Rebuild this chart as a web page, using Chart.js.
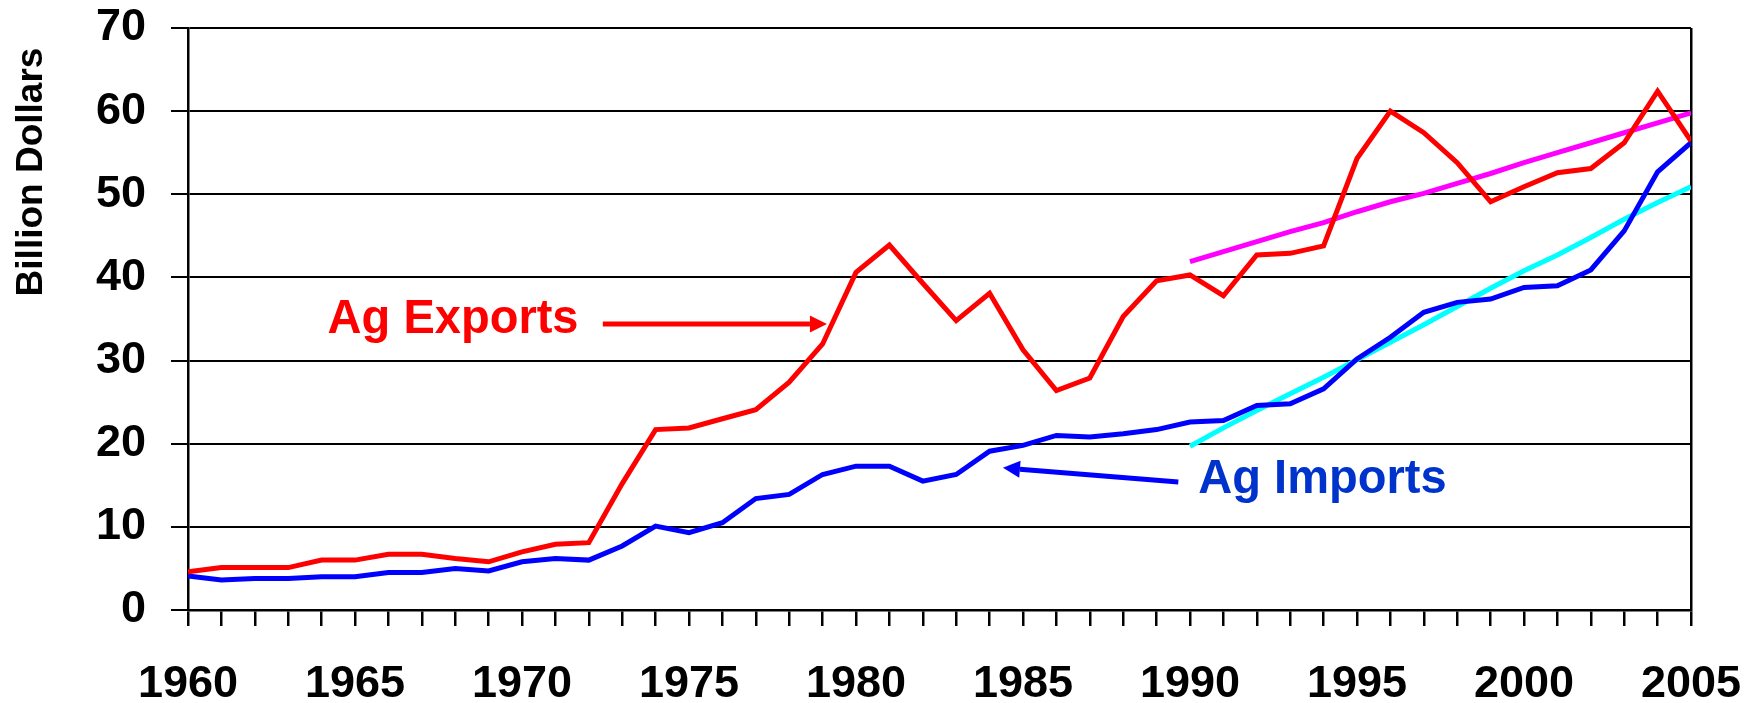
<!DOCTYPE html>
<html>
<head>
<meta charset="utf-8">
<script src="https://cdn.jsdelivr.net/npm/chart.js@4"></script>
<style>
  html, body { margin: 0; padding: 0; background: #ffffff; }
  #wrap { width: 1763px; height: 703px; }
</style>
</head>
<body>
<div id="wrap"><canvas id="chart" width="1763" height="703"></canvas></div>
<script>
// values (billion dollars)
const years = [
  1960, 1961, 1962, 1963, 1964, 1965, 1966, 1967, 1968, 1969,
  1970, 1971, 1972, 1973, 1974, 1975, 1976, 1977, 1978, 1979,
  1980, 1981, 1982, 1983, 1984, 1985, 1986, 1987, 1988, 1989,
  1990, 1991, 1992, 1993, 1994, 1995, 1996, 1997, 1998, 1999,
  2000, 2001, 2002, 2003, 2004, 2005,
];
const agExports = [
  4.6, 5.1, 5.1, 5.1, 6.0, 6.0, 6.7, 6.7, 6.2, 5.8,
  7.0, 7.9, 8.1, 15.2, 21.7, 21.9, 23.0, 24.1, 27.4, 32.0,
  40.6, 43.9, 39.3, 34.8, 38.1, 31.3, 26.4, 27.9, 35.3, 39.6,
  40.3, 37.8, 42.7, 42.9, 43.8, 54.3, 60.0, 57.4, 53.8, 49.1,
  50.9, 52.6, 53.1, 56.2, 62.4, 56.4,
];
const agImports = [
  4.1, 3.6, 3.8, 3.8, 4.0, 4.0, 4.5, 4.5, 5.0, 4.7,
  5.8, 6.2, 6.0, 7.7, 10.1, 9.3, 10.5, 13.4, 13.9, 16.3,
  17.3, 17.3, 15.5, 16.3, 19.1, 19.8, 21.0, 20.8, 21.2, 21.7,
  22.6, 22.8, 24.6, 24.8, 26.6, 30.2, 32.8, 35.8, 37.0, 37.4,
  38.8, 39.0, 40.9, 45.6, 52.7, 56.2,
];
// trend lines drawn over the 1990-2005 stretch
const trendYears = [
  1990, 1991, 1992, 1993, 1994, 1995, 1996, 1997,
  1998, 1999, 2000, 2001, 2002, 2003, 2004, 2005,
];
const exportsTrend = [
  41.9, 43.1, 44.3, 45.5, 46.6, 47.9, 49.1, 50.1,
  51.3, 52.5, 53.8, 55.0, 56.2, 57.4, 58.6, 59.8,
];
const importsTrend = [
  19.7, 21.9, 24.0, 26.0, 28.0, 30.1, 32.2, 34.3,
  36.5, 38.7, 40.8, 42.7, 44.8, 47.0, 49.0, 50.9,
];
const yTicks = [0, 10, 20, 30, 40, 50, 60, 70];

const FONT = '"Liberation Sans", Arial, Helvetica, sans-serif';

const toPoints = (xs, ys) => xs.map((x, i) => ({ x: x, y: ys[i] }));

function drawArrow(ctx, x1, y1, x2, y2, color) {
  const ang = Math.atan2(y2 - y1, x2 - x1);
  const head = 17;
  const half = 8.5;
  const bx = x2 - head * Math.cos(ang);
  const by = y2 - head * Math.sin(ang);
  ctx.strokeStyle = color;
  ctx.fillStyle = color;
  ctx.lineWidth = 5;
  ctx.lineCap = "butt";
  ctx.beginPath();
  ctx.moveTo(x1, y1);
  ctx.lineTo(bx, by);
  ctx.stroke();
  ctx.beginPath();
  ctx.moveTo(x2, y2);
  ctx.lineTo(bx + half * Math.sin(ang), by - half * Math.cos(ang));
  ctx.lineTo(bx - half * Math.sin(ang), by + half * Math.cos(ang));
  ctx.closePath();
  ctx.fill();
}

function drawLabel(ctx, text, x, y, color) {
  ctx.save();
  ctx.translate(x, y);
  ctx.scale(0.96, 1);
  ctx.font = "bold 49px " + FONT;
  ctx.fillStyle = color;
  ctx.textAlign = "left";
  ctx.textBaseline = "alphabetic";
  ctx.fillText(text, 0, 0);
  ctx.restore();
}

// arrows, series labels and the axis title
const notes = {
  id: "notes",
  afterDatasetsDraw(chart) {
    const { ctx, scales } = chart;
    const px = (v) => scales.x.getPixelForValue(v);
    const py = (v) => scales.y.getPixelForValue(v);
    ctx.save();
    drawLabel(ctx, "Ag Exports", px(1964.18), py(33.3), "#ff0000");
    drawArrow(ctx, px(1972.42), py(34.4), px(1979.13), py(34.4), "#ff0000");
    drawLabel(ctx, "Ag Imports", px(1990.25), py(14.1), "#0033cc");
    drawArrow(ctx, px(1989.65), py(15.4), px(1984.4), py(17.1), "#0000ff");

    ctx.translate(41.5, 172);
    ctx.rotate(-Math.PI / 2);
    ctx.font = "bold 37px " + FONT;
    ctx.fillStyle = "#000000";
    ctx.textAlign = "center";
    ctx.textBaseline = "alphabetic";
    ctx.fillText("Billion Dollars", 0, 0);
    ctx.restore();
  },
};

// fixed axis sizes, no extra room for overhanging labels
function pinSize(scale, key, size) {
  scale[key] = size;
  scale.paddingTop = 0;
  scale.paddingBottom = 0;
  scale.paddingLeft = 0;
  scale.paddingRight = 0;
}

new Chart(document.getElementById("chart"), {
  type: "line",
  data: {
    datasets: [
      {
        label: "Ag Exports",
        data: toPoints(years, agExports),
        borderColor: "#ff0000",
        borderWidth: 5,
      },
      {
        label: "Ag Imports",
        data: toPoints(years, agImports),
        borderColor: "#0000ff",
        borderWidth: 5,
      },
      {
        label: "Exports trend",
        data: toPoints(trendYears, exportsTrend),
        borderColor: "#ff00ff",
        borderWidth: 5,
      },
      {
        label: "Imports trend",
        data: toPoints(trendYears, importsTrend),
        borderColor: "#00ffff",
        borderWidth: 5,
      },
    ],
  },
  options: {
    responsive: false,
    animation: false,
    devicePixelRatio: 1,
    elements: {
      point: { radius: 0, hoverRadius: 0 },
      line: { tension: 0, fill: false, borderJoinStyle: "miter" },
    },
    layout: { padding: { left: 0, top: 28, right: 72, bottom: 0 } },
    plugins: {
      legend: { display: false },
      tooltip: { enabled: false },
    },
    scales: {
      x: {
        type: "linear",
        min: years[0],
        max: years[years.length - 1],
        afterFit: (scale) => pinSize(scale, "height", 93),
        afterBuildTicks: (scale) => {
          scale.ticks = years.map((v) => ({ value: v }));
        },
        border: { display: true, color: "#000000", width: 2.5 },
        grid: {
          drawOnChartArea: true,
          color: (c) => (c.tick && c.tick.value === 2005 ? "#000000" : "rgba(0,0,0,0)"),
          tickColor: "#000000",
          lineWidth: 2.5,
          tickLength: 16,
        },
        ticks: {
          autoSkip: false,
          maxRotation: 0,
          padding: 32,
          color: "#000000",
          font: { family: FONT, size: 45, weight: "bold" },
          callback: (v) => (v % 5 === 0 ? String(v) : ""),
        },
      },
      y: {
        min: 0,
        max: 70,
        afterFit: (scale) => pinSize(scale, "width", 188),
        afterBuildTicks: (scale) => {
          scale.ticks = yTicks.map((v) => ({ value: v }));
        },
        border: { display: true, color: "#000000", width: 2.5 },
        grid: {
          color: "#000000",
          lineWidth: 2,
          tickLength: 17,
        },
        ticks: {
          padding: 25,
          color: "#000000",
          font: { family: FONT, size: 45, weight: "bold" },
        },
      },
    },
  },
  plugins: [notes],
});
</script>
</body>
</html>
